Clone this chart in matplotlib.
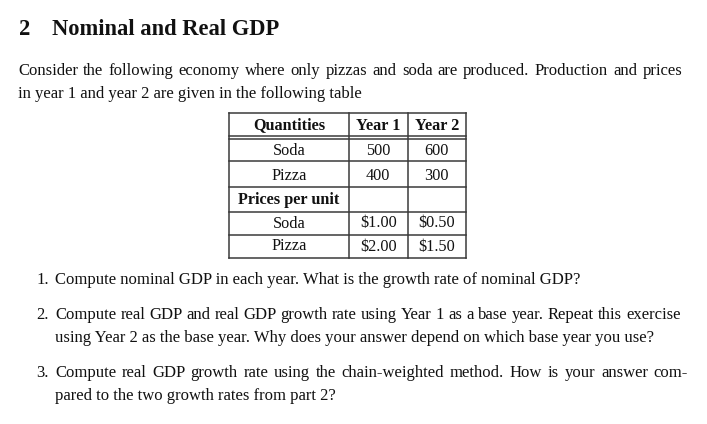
import matplotlib
matplotlib.use("Agg")
import matplotlib.pyplot as plt

# ---- content ----
section_number = "2"
section_title = "Nominal and Real GDP"
intro_lines = [
    "Consider the following economy where only pizzas and soda are produced. Production and prices",
    "in year 1 and year 2 are given in the following table",
]
col_headers = ["Quantities", "Year 1", "Year 2"]
quantity_items = ["Soda", "Pizza"]
quantity_year1 = [500, 400]
quantity_year2 = [600, 300]
price_header = "Prices per unit"
price_items = ["Soda", "Pizza"]
price_year1 = [1.00, 2.00]
price_year2 = [0.50, 1.50]
questions = [
    ["Compute nominal GDP in each year. What is the growth rate of nominal GDP?"],
    ["Compute real GDP and real GDP growth rate using Year 1 as a base year. Repeat this exercise",
     "using Year 2 as the base year. Why does your answer depend on which base year you use?"],
    ["Compute real GDP growth rate using the chain-weighted method. How is your answer com-",
     "pared to the two growth rates from part 2?"],
]

W, H = 707, 424
fig = plt.figure(figsize=(W / 100, H / 100), dpi=100)
ax = fig.add_axes([0, 0, 1, 1])
ax.set_xlim(0, W)
ax.set_ylim(H, 0)
ax.axis("off")
FONT = "Liberation Serif"
INK = "#111111"
renderer = fig.canvas.get_renderer()


def text_width(text, size, weight="normal"):
    t = ax.text(0, 0, text, fontsize=size, family=FONT, weight=weight)
    w = t.get_window_extent(renderer).width
    t.remove()
    return w


def fit_size(text, target_w, weight="normal", base=12):
    return base * target_w / text_width(text, base, weight)


fits = [fit_size(intro_lines[1], 355 - 18),
        fit_size(questions[0][0], 581 - 55),
        fit_size(questions[1][1], 657 - 55),
        fit_size(questions[2][1], 338 - 55)]
body = sum(fits) / len(fits)


def draw_line(x0, y, line, right=None):
    """Draw a line; if right is given, justify it word by word to that edge."""
    size = body
    if right is None:
        ax.text(x0, y, line, fontsize=size, family=FONT, va="baseline", color=INK)
        return
    words = line.split(" ")
    n = len(words)
    extra = (right - x0 - text_width(line, size)) / (n - 1)
    for i, w in enumerate(words):
        start = text_width(" ".join(words[:i + 1]), size) - text_width(w, size)
        ax.text(x0 + start + i * extra, y, w, fontsize=size, family=FONT,
                va="baseline", color=INK)


head = fit_size(section_title, 278 - 52, weight="bold")
tab = fit_size(col_headers[0], 72, weight="bold")

ax.text(19, 35, section_number, fontsize=head, family=FONT, weight="bold",
        va="baseline", color=INK)
ax.text(52, 35, section_title, fontsize=head, family=FONT, weight="bold",
        va="baseline", color=INK)
draw_line(18, 75, intro_lines[0], right=682)
draw_line(18, 97.5, intro_lines[1])

# ---- table ----
xl, xm1, xm2, xr = 229, 349, 407.5, 466
row_edges = [113, 135.5, 161, 187, 212, 235, 258]
centers = [(xl + xm1) / 2, (xm1 + xm2) / 2, (xm2 + xr) / 2]
lw = 1.1
lc = "#3a3a3a"
for y in row_edges + [139]:
    ax.plot([xl, xr], [y, y], color=lc, lw=lw, solid_capstyle="projecting")
for x in [xl, xm1, xm2, xr]:
    ax.plot([x, x], [row_edges[0], row_edges[-1]], color=lc, lw=lw)

rows = [(col_headers, "bold")]
for name, a, b in zip(quantity_items, quantity_year1, quantity_year2):
    rows.append(([name, str(a), str(b)], "normal"))
rows.append(([price_header, "", ""], "bold"))
for name, a, b in zip(price_items, price_year1, price_year2):
    rows.append(([name, f"${a:.2f}", f"${b:.2f}"], "normal"))

row_baselines = [129.5, 155, 179.5, 204, 227.5, 250.5]
for (cells, wt), yb in zip(rows, row_baselines):
    for j, c in enumerate(cells):
        ax.text(centers[j], yb, c, fontsize=tab, family=FONT, weight=wt,
                ha="center", va="baseline", color=INK)

# ---- questions ----
q_y = [[283.5], [319, 341.5], [377, 400]]
q_right = [[None], [681, None], [688, None]]
for k, (lines, ys, rs) in enumerate(zip(questions, q_y, q_right)):
    ax.text(49, ys[0], f"{k + 1}.", fontsize=body, family=FONT, ha="right",
            va="baseline", color=INK)
    for line, y, r in zip(lines, ys, rs):
        draw_line(55, y, line, right=r)

fig.savefig("out.png", dpi=100)
